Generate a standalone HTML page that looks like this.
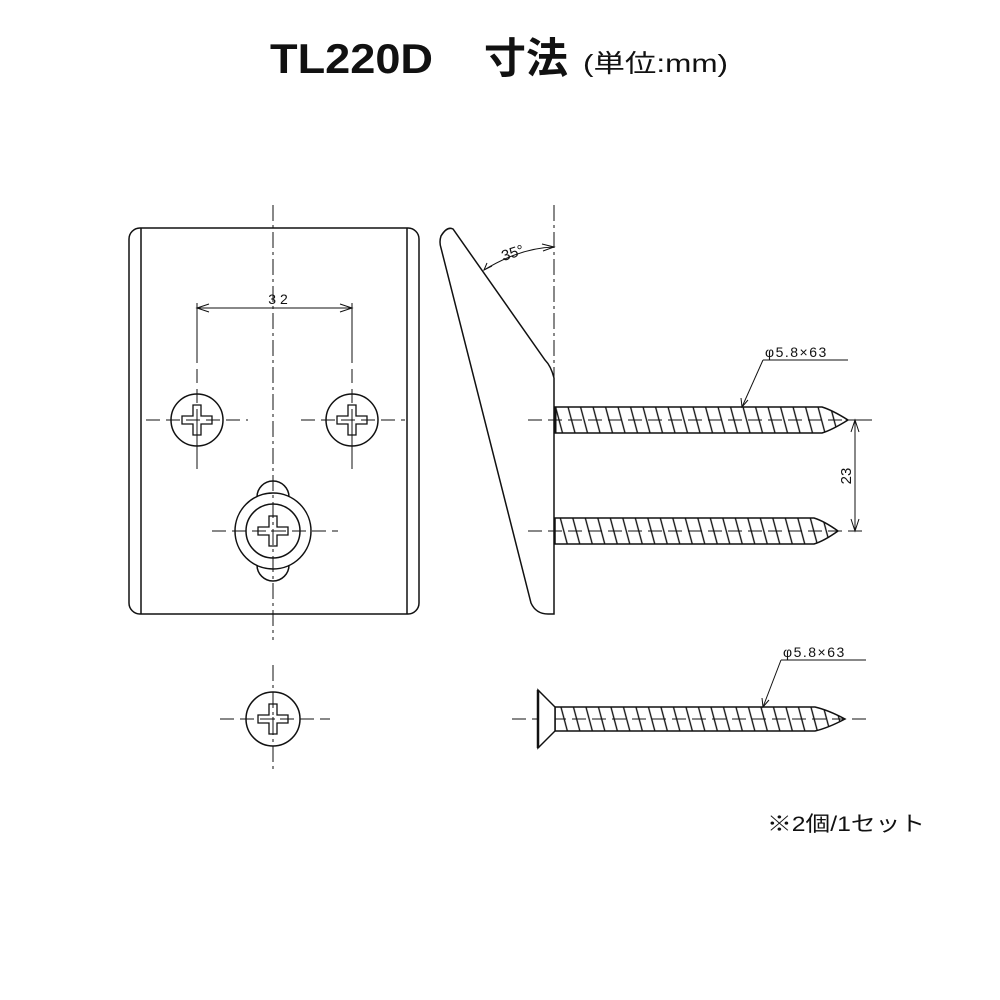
<!DOCTYPE html>
<html><head><meta charset="utf-8"><style>
html,body{margin:0;padding:0;background:#fff;}
svg{display:block}
text{font-family:"Liberation Sans","Noto Sans CJK JP",sans-serif;fill:#111}
</style></head><body>
<svg width="1000" height="1000" viewBox="0 0 1000 1000" xmlns="http://www.w3.org/2000/svg">
<defs>
<pattern id="thr" patternUnits="userSpaceOnUse" width="12.5" height="20" x="556" y="0" patternTransform="skewX(15)">
<line x1="3" y1="-2" x2="3" y2="22" stroke="#111" stroke-width="1.4"/>
</pattern>
<g id="cross">
<path d="M-4,-15 H4 V-4 H15 V4 H4 V15 H-4 V4 H-15 V-4 H-4 Z" fill="none" stroke="#111" stroke-width="1.3"/>
<line x1="-2" y1="0" x2="2" y2="0" stroke="#111" stroke-width="1"/><line x1="0" y1="-2" x2="0" y2="2" stroke="#111" stroke-width="1"/>
</g>
</defs>
<text x="270" y="73" font-size="42" font-weight="bold" textLength="163" lengthAdjust="spacingAndGlyphs">TL220D</text>
<text x="484" y="73" font-size="42" font-weight="bold">寸法</text>
<text x="583" y="72" font-size="25" textLength="145" lengthAdjust="spacingAndGlyphs">(単位:mm)</text>

<g fill="none" stroke="#111" stroke-width="1.5">
<rect x="129" y="228" width="290" height="386" rx="11"/>
<line x1="141" y1="228" x2="141" y2="614"/>
<line x1="407" y1="228" x2="407" y2="614"/>
<circle cx="197" cy="420" r="26"/>
<circle cx="352" cy="420" r="26"/>
<path d="M257,497 A16,16 0 0 1 289,497"/>
<path d="M257,565 A16,16 0 0 0 289,565"/>
<circle cx="273" cy="531" r="38"/>
<circle cx="273" cy="531" r="27"/>
<circle cx="273" cy="719" r="27"/>
<path d="M554,378 Q551,366 545,360 L453,229 Q447,226 441,236 Q439,242 441,248 L531,603 Q536,614 548,614 L554,614 Z"/>
</g>
<use href="#cross" x="197" y="420"/>
<use href="#cross" x="352" y="420"/>
<use href="#cross" x="273" y="531"/>
<use href="#cross" x="273" y="719"/>

<g stroke="#111" stroke-width="1" fill="none">
<line x1="273" y1="205" x2="273" y2="640" stroke-dasharray="16,4,3,4"/>
<line x1="273" y1="665" x2="273" y2="772" stroke-dasharray="16,4,3,4"/>
<line x1="146" y1="420" x2="248" y2="420" stroke-dasharray="14,6"/>
<line x1="301" y1="420" x2="405" y2="420" stroke-dasharray="14,6"/>
<line x1="197" y1="303" x2="197" y2="470" stroke-dasharray="60,6,14,6,14,6"/>
<line x1="352" y1="303" x2="352" y2="470" stroke-dasharray="60,6,14,6,14,6"/>
<line x1="197" y1="308" x2="352" y2="308"/>
<path d="M209,304 L197,308 L209,312 M340,304 L352,308 L340,312"/>
<line x1="212" y1="531" x2="338" y2="531" stroke-dasharray="14,6"/>
<line x1="220" y1="719" x2="330" y2="719" stroke-dasharray="14,6"/>
<line x1="554" y1="205" x2="554" y2="378" stroke-dasharray="16,4,3,4"/>
<path d="M484,270 Q520,248 554,247"/>
<path d="M542,244 L554,247 L543,251 M487,263 L484,270 L492,266"/>
<line x1="528" y1="420" x2="872" y2="420" stroke-dasharray="14,6"/>
<line x1="528" y1="531" x2="862" y2="531" stroke-dasharray="14,6"/>
<line x1="848" y1="420" x2="872" y2="420"/>
<line x1="855" y1="420" x2="855" y2="531"/>
<path d="M851,432 L855,420 L859,432 M851,519 L855,531 L859,519"/>
<line x1="512" y1="719" x2="868" y2="719" stroke-dasharray="14,6"/>
<line x1="763" y1="360" x2="848" y2="360"/>
<line x1="763" y1="360" x2="742" y2="407"/>
<path d="M741,398 L742,407 L748,400"/>
<line x1="781" y1="660" x2="866" y2="660"/>
<line x1="781" y1="660" x2="763" y2="707"/>
<path d="M762,698 L763,707 L769,700"/>
</g>

<g stroke="#111" stroke-width="1.5">
<path d="M555,407 H822 Q832,410 848,420 Q832,430 822,433 H555 Z" fill="url(#thr)"/>
<path d="M555,518 H814 Q824,521 838,531 Q824,541 814,544 H555 Z" fill="url(#thr)"/>
<path d="M555,707 H815 Q828,710 845,719 Q828,728 815,731 H555 Z" fill="url(#thr)"/>
<path d="M538,690 L555,707 L555,731 L538,748 Z" fill="#fff"/>
<line x1="538" y1="690" x2="538" y2="748" stroke-width="2.5"/>
<line x1="555" y1="407" x2="555" y2="433" stroke-width="3"/>
</g>

<text x="280" y="304" font-size="14" text-anchor="middle" letter-spacing="4">32</text>
<text x="501" y="258" font-size="15" transform="rotate(-18 512 252)">35°</text>
<text x="765" y="357" font-size="14" letter-spacing="1.5">φ5.8×63</text>
<text x="783" y="657" font-size="14" letter-spacing="1.5">φ5.8×63</text>
<text x="0" y="0" font-size="15" transform="translate(851,476) rotate(-90)" text-anchor="middle">23</text>
<text x="767" y="831" font-size="21" textLength="158" lengthAdjust="spacingAndGlyphs">※2個/1セット</text>
</svg>
</body></html>
